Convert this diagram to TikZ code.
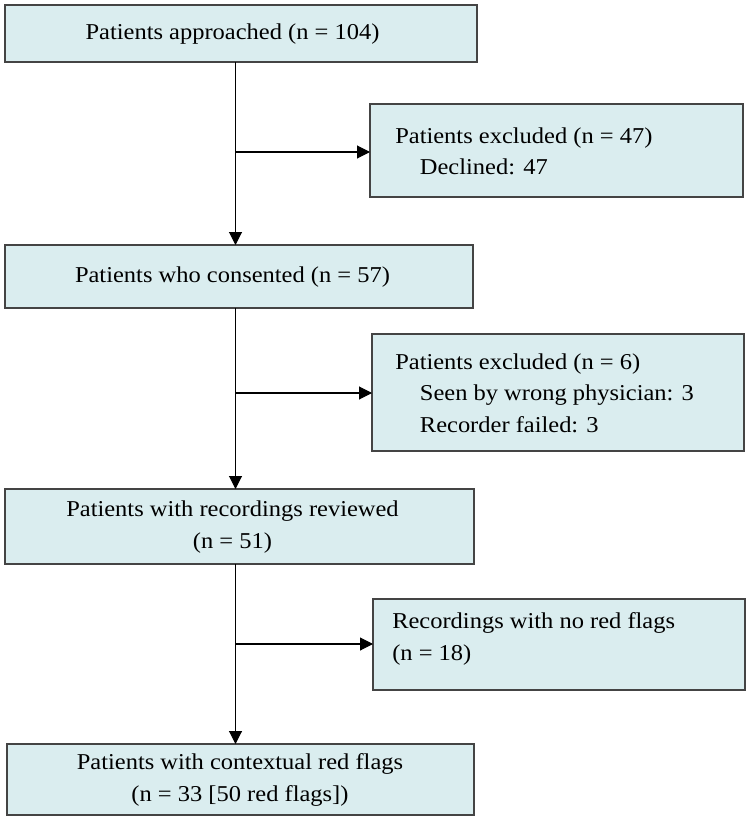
\documentclass[tikz,border=0pt]{standalone}
\usepackage{fontspec}
\setmainfont{Liberation Serif}[FakeStretch=1.08]
\usetikzlibrary{arrows.meta}
\definecolor{boxfill}{HTML}{DAEDEF}
\definecolor{boxline}{HTML}{444444}
\begin{document}
\begin{tikzpicture}[x=0.75pt,y=-0.75pt,
  box/.style={draw=boxline,fill=boxfill,line width=1.2pt,inner sep=0pt},
  txt/.style={inner sep=0pt,font=\fontsize{17}{23.5}\selectfont},
  ltxt/.style={txt,align=left,anchor=west},
  ctxt/.style={txt,align=center},
  flow/.style={draw=black,line width=0.8pt,-{Triangle[length=9.75pt,width=9.75pt]}}]
\useasboundingbox (0,0) rectangle (752,821);
% boxes
\path[box] (5,5) rectangle (477,62) node[pos=0.5,inner sep=0] (b1) {};
\path[box] (370,104) rectangle (743,197) node[pos=0.5,inner sep=0] (b2) {};
\path[box] (5,245) rectangle (473,308) node[pos=0.5,inner sep=0] (b3) {};
\path[box] (372,334) rectangle (744,451) node[pos=0.5,inner sep=0] (b4) {};
\path[box] (5,489) rectangle (474,564) node[pos=0.5,inner sep=0] (b5) {};
\path[box] (373,599) rectangle (745,690) node[pos=0.5,inner sep=0] (b6) {};
\path[box] (7,744) rectangle (474,815) node[pos=0.5,inner sep=0] (b7) {};
% named anchors for edges
\coordinate (t1) at (235.5,62);
\coordinate (t3) at (235.5,245);
\coordinate (s3) at (235.5,308);
\coordinate (t5) at (235.5,489);
\coordinate (s5) at (235.5,564);
\coordinate (t7) at (235.5,744);
\coordinate (j1) at (235.5,152);
\coordinate (e2) at (370,152);
\coordinate (j2) at (235.5,393);
\coordinate (e4) at (372,393);
\coordinate (j3) at (235.5,644);
\coordinate (e6) at (373,644);
% texts
\node[ctxt] (x1) at (232.5,34) {Patients approached (n = 104)};
\node[ltxt] (x2) at (395,151) {Patients excluded (n = 47)\\\hspace*{18.5pt}Declined: 47};
\node[ctxt] (x3) at (232.5,277) {Patients who consented (n = 57)};
\node[ltxt] (x4) at (395,393) {Patients excluded (n = 6)\\\hspace*{18.5pt}Seen by wrong physician: 3\\\hspace*{18.5pt}Recorder failed: 3};
\node[ctxt] (x5) at (232.5,527) {Patients with recordings reviewed\\(n = 51)};
\node[ltxt] (x6) at (392,639) {Recordings with no red flags\\(n = 18)};
\node[ctxt] (x7) at (240,780) {Patients with contextual red flags\\(n = 33 [50 red flags])};
% connectors
\draw[flow] (t1) -- (t3);
\draw[flow] (j1) -- (e2);
\draw[flow] (s3) -- (t5);
\draw[flow] (j2) -- (e4);
\draw[flow] (s5) -- (t7);
\draw[flow] (j3) -- (e6);
\end{tikzpicture}
\end{document}
